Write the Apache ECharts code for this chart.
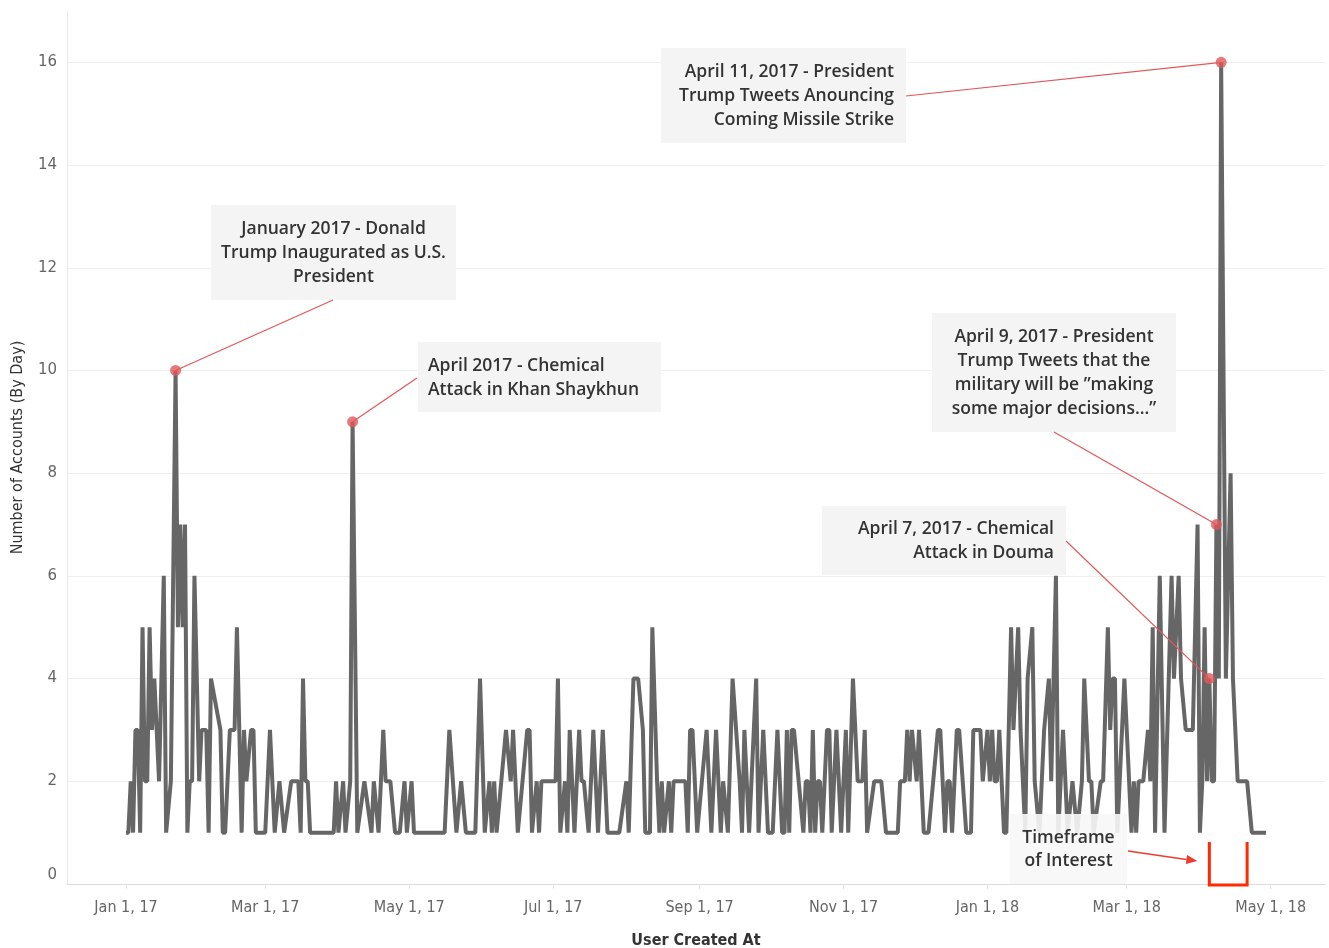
<!DOCTYPE html>
<html><head><meta charset="utf-8">
<script src="https://cdn.jsdelivr.net/npm/echarts@6/dist/echarts.min.js"></script>
<style>html,body{margin:0;padding:0;background:#fff}#c{width:1329px;height:948px}</style>
</head><body><div id="c"></div>
<script>
// ---- data ----
const dates = [
'2017-01-01','2017-01-02','2017-01-03','2017-01-04','2017-01-05','2017-01-06','2017-01-07','2017-01-08','2017-01-09','2017-01-10',
'2017-01-11','2017-01-12','2017-01-13','2017-01-15','2017-01-17','2017-01-18','2017-01-20','2017-01-22','2017-01-23','2017-01-24',
'2017-01-25','2017-01-26','2017-01-27','2017-01-28','2017-01-29','2017-01-30','2017-02-01','2017-02-02','2017-02-04','2017-02-05',
'2017-02-06','2017-02-10','2017-02-11','2017-02-12','2017-02-14','2017-02-16','2017-02-17','2017-02-19','2017-02-20','2017-02-21',
'2017-02-23','2017-02-24','2017-02-25','2017-03-01','2017-03-03','2017-03-05','2017-03-07','2017-03-09','2017-03-12','2017-03-15',
'2017-03-16','2017-03-17','2017-03-18','2017-03-19','2017-03-20','2017-03-30','2017-03-31','2017-04-01','2017-04-03','2017-04-04',
'2017-04-06','2017-04-07','2017-04-09','2017-04-12','2017-04-15','2017-04-16','2017-04-18','2017-04-20','2017-04-21','2017-04-23',
'2017-04-25','2017-04-27','2017-04-29','2017-04-30','2017-05-02','2017-05-03','2017-05-16','2017-05-18','2017-05-21','2017-05-23',
'2017-05-25','2017-05-29','2017-05-31','2017-06-02','2017-06-04','2017-06-05','2017-06-06','2017-06-07','2017-06-09','2017-06-11',
'2017-06-13','2017-06-14','2017-06-16','2017-06-20','2017-06-21','2017-06-22','2017-06-24','2017-06-25','2017-06-26','2017-07-02',
'2017-07-03','2017-07-04','2017-07-06','2017-07-07','2017-07-08','2017-07-10','2017-07-12','2017-07-13','2017-07-14','2017-07-16',
'2017-07-18','2017-07-20','2017-07-22','2017-07-24','2017-07-29','2017-08-01','2017-08-02','2017-08-04','2017-08-06','2017-08-08',
'2017-08-09','2017-08-11','2017-08-12','2017-08-14','2017-08-15','2017-08-16','2017-08-17','2017-08-19','2017-08-20','2017-08-21',
'2017-08-26','2017-08-27','2017-08-28','2017-08-29','2017-08-31','2017-09-04','2017-09-06','2017-09-08','2017-09-10','2017-09-11',
'2017-09-13','2017-09-15','2017-09-18','2017-09-19','2017-09-20','2017-09-22','2017-09-25','2017-09-26','2017-09-28','2017-09-30',
'2017-10-02','2017-10-04','2017-10-06','2017-10-07','2017-10-08','2017-10-09','2017-10-10','2017-10-11','2017-10-15','2017-10-16',
'2017-10-17','2017-10-18','2017-10-19','2017-10-20','2017-10-21','2017-10-22','2017-10-23','2017-10-25','2017-10-26','2017-10-27',
'2017-10-29','2017-10-31','2017-11-02','2017-11-03','2017-11-05','2017-11-07','2017-11-09','2017-11-10','2017-11-11','2017-11-14',
'2017-11-17','2017-11-19','2017-11-24','2017-11-25','2017-11-27','2017-11-28','2017-11-29','2017-11-30','2017-12-02','2017-12-03',
'2017-12-04','2017-12-05','2017-12-07','2017-12-11','2017-12-12','2017-12-14','2017-12-15','2017-12-16','2017-12-17','2017-12-19',
'2017-12-20','2017-12-23','2017-12-25','2017-12-26','2017-12-29','2017-12-30','2018-01-01','2018-01-02','2018-01-03','2018-01-04',
'2018-01-05','2018-01-06','2018-01-07','2018-01-08','2018-01-09','2018-01-11','2018-01-12','2018-01-14','2018-01-15','2018-01-16',
'2018-01-17','2018-01-18','2018-01-20','2018-01-21','2018-01-23','2018-01-25','2018-01-27','2018-01-28','2018-01-30','2018-01-31',
'2018-02-02','2018-02-04','2018-02-06','2018-02-08','2018-02-10','2018-02-11','2018-02-13','2018-02-14','2018-02-15','2018-02-18',
'2018-02-19','2018-02-21','2018-02-22','2018-02-23','2018-02-24','2018-02-25','2018-02-28','2018-03-03','2018-03-04','2018-03-05',
'2018-03-06','2018-03-08','2018-03-10','2018-03-11','2018-03-12','2018-03-13','2018-03-15','2018-03-17','2018-03-20','2018-03-21',
'2018-03-23','2018-03-24','2018-03-26','2018-03-29','2018-03-30','2018-03-31','2018-04-01','2018-04-02','2018-04-03','2018-04-04',
'2018-04-05','2018-04-06','2018-04-07','2018-04-08','2018-04-09','2018-04-10','2018-04-12','2018-04-14','2018-04-15','2018-04-17',
'2018-04-21','2018-04-23','2018-04-29'
];
const counts = [
1,1,2,1,3,3,1,5,2,2,
5,3,4,2,6,1,2,10,5,7,
5,7,1,2,2,6,2,3,3,1,
4,3,1,1,3,3,5,1,3,2,
3,3,1,1,3,1,2,1,2,2,
1,4,2,2,1,1,2,1,2,1,
2,9,1,2,1,2,1,3,2,2,
1,1,2,1,2,1,1,3,1,2,
1,1,4,1,2,1,2,1,2,3,
2,3,1,3,3,1,2,1,2,2,
4,1,2,1,3,1,3,2,2,1,
3,1,3,1,1,2,1,4,4,3,
1,1,5,2,1,2,1,2,1,2,
2,1,3,3,1,3,1,3,1,2,
1,4,2,1,3,1,4,1,3,1,
1,3,1,1,3,1,3,3,1,2,
2,1,3,1,2,2,1,3,3,1,
3,1,3,1,4,2,2,3,1,2,
2,1,1,2,2,3,2,3,2,3,
2,1,1,3,3,1,2,2,1,3,
3,1,1,3,3,2,3,2,3,2,
2,3,2,1,1,5,3,5,3,2,
1,4,5,2,1,3,4,2,6,1,
3,1,2,1,2,4,2,2,1,2,
2,5,3,4,4,1,4,1,2,1,
2,2,3,2,5,1,6,1,6,4,
6,4,3,3,5,7,1,2,5,2,
4,2,2,7,4,16,4,8,4,2,
2,1,1
];
const xTickDates = ['2017-01-01','2017-03-01','2017-05-01','2017-07-01','2017-09-01','2017-11-01','2018-01-01','2018-03-01','2018-05-01'];
const annDates  = ['2017-01-22','2017-04-07','2018-04-10','2018-04-08','2018-04-05'];
const annValues = [10, 9, 16, 7, 4];
const annTexts  = [
  'January 2017 - Donald\nTrump Inaugurated as U.S.\nPresident',
  'April 2017 - Chemical\nAttack in Khan Shaykhun',
  'April 11, 2017 - President\nTrump Tweets Anouncing\nComing Missile Strike',
  'April 9, 2017 - President\nTrump Tweets that the\nmilitary will be \u201Dmaking\nsome major decisions...\u201D',
  'April 7, 2017 - Chemical\nAttack in Douma'
];
const timeframeText = 'Timeframe\nof Interest';
const timeframe = ['2018-04-05', '2018-04-21'];

// ---- helpers ----
const toTs = s => { const p = s.split('-').map(Number); return Date.UTC(p[0], p[1] - 1, p[2]); };
const MON = ['Jan','Feb','Mar','Apr','May','Jun','Jul','Aug','Sep','Oct','Nov','Dec'];
const fmtDate = v => { const d = new Date(v); return MON[d.getUTCMonth()] + ' ' + d.getUTCDate() + ', ' + String(d.getUTCFullYear()).slice(2); };
const narrow = '"Liberation Sans Narrow", "DejaVu Sans Condensed", "Roboto Condensed", sans-serif';
const annFont = '"Open Sans", "Noto Sans", sans-serif';
const RED = '#e15759';

const chart = echarts.init(document.getElementById('c'), null, {renderer: 'canvas'});
const xTicks = xTickDates.map(toTs);
const gridColors = [];
for (let i = 0; i < 9; i++) gridColors.push('#efefef');
gridColors.push('rgba(0,0,0,0)');

chart.setOption({
  animation: false,
  backgroundColor: '#fff',
  grid: {left: 67, right: 4, top: 11, bottom: 64, outerBoundsMode: 'none', containLabel: false},
  xAxis: {
    type: 'value',
    min: toTs('2016-12-07'), max: toTs('2018-05-24'),
    axisLine: {show: true, lineStyle: {color: '#dcdcdc', width: 1}},
    axisTick: {show: true, customValues: xTicks, length: 5, lineStyle: {color: '#e4e4e4'}},
    axisLabel: {customValues: xTicks, formatter: v => fmtDate(v), color: '#666', fontSize: 16, fontFamily: narrow, margin: 16, hideOverlap: false},
    splitLine: {show: false},
    name: 'User Created At', nameLocation: 'middle', nameGap: 49,
    nameTextStyle: {color: '#333', fontSize: 16, fontWeight: 'bold', fontFamily: narrow}
  },
  yAxis: {
    type: 'value', min: 0, max: 17, interval: 2,
    axisLine: {show: true, lineStyle: {color: '#e6e6e6'}},
    axisTick: {show: false},
    axisLabel: {
      showMaxLabel: false, color: '#666', fontSize: 15, fontFamily: '"DejaVu Sans", sans-serif', margin: 10,
      formatter: v => (v === 0 ? '{z|0}' : (v % 2 === 0 ? String(v) : '')),
      rich: {z: {color: '#666', fontSize: 15, fontFamily: '"DejaVu Sans", sans-serif', padding: [0, 0, 18, 0]}}
    },
    splitLine: {show: true, lineStyle: {color: gridColors, width: 1}},
    name: 'Number of Accounts (By Day)', nameLocation: 'middle', nameGap: 41, nameRotate: 90,
    nameTextStyle: {color: '#333', fontSize: 16, fontFamily: narrow}
  },
  series: [
    {
      type: 'line', name: 'accounts',
      data: dates.map((d, i) => [toTs(d), counts[i]]),
      showSymbol: false, symbol: 'none',
      lineStyle: {color: '#666666', width: 4, join: 'bevel'},
      clip: false, z: 2
    },
    {
      type: 'scatter', name: 'annotations',
      data: annDates.map((d, i) => [toTs(d), annValues[i]]),
      symbol: 'circle', symbolSize: 11,
      itemStyle: {color: RED}, z: 5
    }
  ]
});

// ---- annotation boxes (layout) ----
const boxes = [
  {x: 211, y: 205, w: 245, h: 95,  align: 'center', ax: 333,  ay: 300},
  {x: 418, y: 342, w: 243, h: 70,  align: 'left',   ax: 417,  ay: 378},
  {x: 661, y: 48,  w: 245, h: 95,  align: 'right',  ax: 906,  ay: 96},
  {x: 932, y: 313, w: 244, h: 119, align: 'center', ax: 1054, ay: 432},
  {x: 822, y: 506, w: 244, h: 69,  align: 'right',  ax: 1066, ay: 541}
];
const g = [];
boxes.forEach((b, i) => {
  const p = chart.convertToPixel({gridIndex: 0}, [toTs(annDates[i]), annValues[i]]);
  g.push({type: 'rect', shape: {x: b.x, y: b.y, width: b.w, height: b.h}, style: {fill: '#f4f4f4'}, z: 1, silent: true});
  const tx = b.align === 'center' ? b.x + b.w / 2 : (b.align === 'left' ? b.x + 10 : b.x + b.w - 12);
  g.push({type: 'text', x: tx, y: b.y + b.h / 2 + 1, z: 3, style: {
    text: annTexts[i], fill: '#333', font: '600 17.5px ' + annFont, align: b.align, verticalAlign: 'middle', lineHeight: 24}});
  g.push({type: 'line', shape: {x1: b.ax, y1: b.ay, x2: p[0], y2: p[1]}, style: {stroke: RED, lineWidth: 1.2}, z: 4});
});

// timeframe bracket
const t0 = chart.convertToPixel({gridIndex: 0}, [toTs(timeframe[0]), 0]);
const t1 = chart.convertToPixel({gridIndex: 0}, [toTs(timeframe[1]), 0]);
const by = t0[1] + 1, topY = by - 43;
g.push({type: 'polyline', shape: {points: [[t0[0], topY], [t0[0], by], [t1[0], by], [t1[0], topY]]},
  style: {stroke: '#ff2a00', lineWidth: 3, fill: null}, z: 6});
g.push({type: 'rect', shape: {x: 1010, y: 814, width: 117, height: 70}, style: {fill: 'rgba(247,247,247,0.9)'}, z: 7});
g.push({type: 'text', x: 1068.5, y: 850, z: 8, style: {text: timeframeText, fill: '#333', font: '600 17.5px ' + annFont,
  align: 'center', verticalAlign: 'middle', lineHeight: 23}});
// arrow to the bracket
const ax2 = t0[0] - 12, ay2 = 861, ax1 = 1128, ay1 = 851;
const ang = Math.atan2(ay2 - ay1, ax2 - ax1);
const hl = 11, hw = 4.5;
const bx = ax2 - hl * Math.cos(ang), byy = ay2 - hl * Math.sin(ang);
g.push({type: 'line', shape: {x1: ax1, y1: ay1, x2: bx, y2: byy}, style: {stroke: '#ee3b2e', lineWidth: 1.5}, z: 8});
g.push({type: 'polygon', shape: {points: [[ax2, ay2],
  [bx + hw * Math.sin(ang), byy - hw * Math.cos(ang)],
  [bx - hw * Math.sin(ang), byy + hw * Math.cos(ang)]]}, style: {fill: '#ee3b2e'}, z: 8});

chart.setOption({graphic: g});
</script>
</body></html>
